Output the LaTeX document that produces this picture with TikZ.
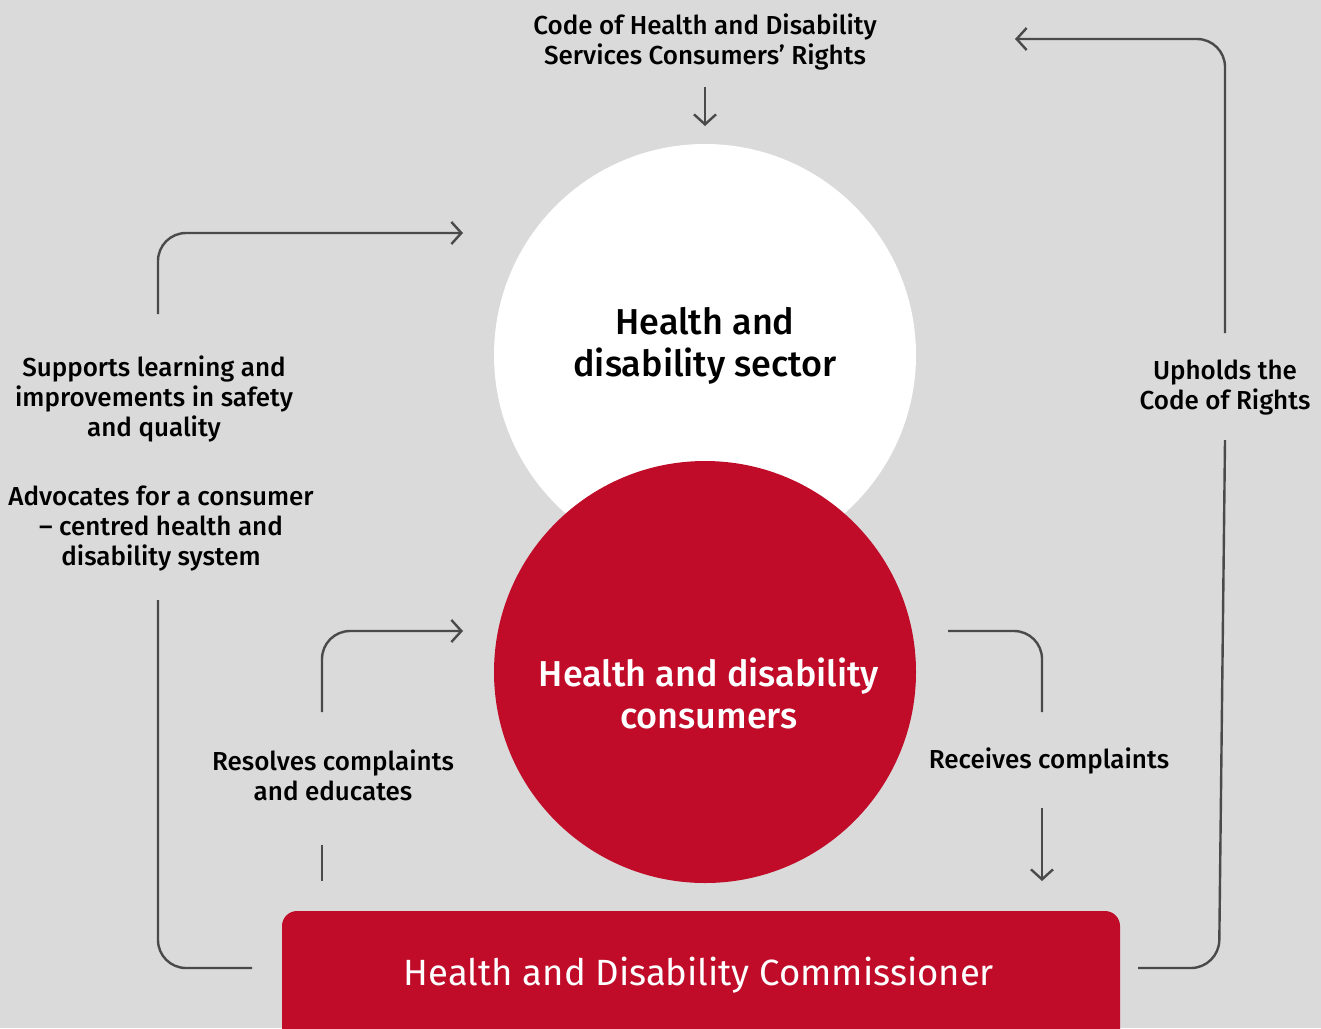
\documentclass[tikz,border=0pt]{standalone}
\usepackage{fontspec}
\setmainfont{Fira Sans}
\newfontfamily\medfont{Fira Sans Medium}
\usetikzlibrary{arrows.meta}
\definecolor{bg}{HTML}{DADADA}
\definecolor{hdcred}{HTML}{C00C29}
\definecolor{wire}{HTML}{4A4A4A}
\begin{document}
\begin{tikzpicture}[x=1pt,y=-1pt,
  wirestyle/.style={draw=wire,line width=2.4pt,rounded corners=28pt},
  tip/.style={-{Straight Barb[length=10pt,width=22pt]}},
  lbl/.style={align=center,font=\medfont\fontsize{26}{30}\selectfont,text=black,inner sep=0pt},
  big/.style={align=center,inner sep=0pt,font=\medfont\fontsize{36}{42}\selectfont},
  ball/.style={circle,minimum size=422pt,inner sep=0pt}]
\useasboundingbox (0,0) rectangle (1321,1028);
\clip (0,0) rectangle (1321,1028);
\fill[bg] (0,0) rectangle (1321,1028);

% the two circles
\node[ball,fill=white] (sector) at (705,355) {};
\node[ball,fill=hdcred] (consumers) at (705,672) {};
\node[big,text=black] (sectortext) at (705,346) {Health and\\disability sector};
\node[big,text=white] (consumerstext) at (709,693) {Health and disability\\consumers};

% the commissioner bar, running off the bottom edge
\node[fill=hdcred,rounded corners=15pt,minimum width=838pt,minimum height=150pt,inner sep=0pt] (hdc) at (701,986) {};
\node[text=white,inner sep=0pt,font=\fontsize{36.5}{42}\selectfont] (hdctext) at (699,975) {Health and Disability Commissioner};

% labels
\node[lbl] (code) at (705,42) {Code of Health and Disability\\Services Consumers’ Rights};
\node[lbl] (supports) at (154,399) {Supports learning and\\improvements in safety\\and quality};
\node[lbl] (advocates) at (161,529) {Advocates for a consumer\\– centred health and\\disability system};
\node[lbl] (resolves) at (333,775) {Resolves complaints\\and educates};
\node[lbl] (receives) at (1049,761) {Receives complaints};
\node[lbl] (upholds) at (1225,388) {Upholds the\\Code of Rights};

% connector end points
\coordinate (codeA) at (705,87);
\coordinate (codeB) at (705,126);
\coordinate (supA) at (158,314);
\coordinate (supB) at (463,233);
\coordinate (advA) at (158,600);
\coordinate (advB) at (252,968);
\coordinate (resA) at (322,712);
\coordinate (resB) at (463,631);
\coordinate (resC) at (322,845);
\coordinate (resD) at (322,881);
\coordinate (recA) at (948,631);
\coordinate (recB) at (1042,712);
\coordinate (recC) at (1042,808);
\coordinate (recD) at (1042,881);
\coordinate (uphA) at (1138,968);
\coordinate (uphK) at (1219,968);
\coordinate (uphB) at (1225,440);
\coordinate (uphC) at (1225,333);
\coordinate (uphD) at (1015,39);

% connectors
\draw[wirestyle,tip] (codeA) -- (codeB);
\draw[wirestyle,tip] (supA) |- (supB);
\draw[wirestyle] (advA) |- (advB);
\draw[wirestyle,tip] (resA) |- (resB);
\draw[wirestyle] (resC) -- (resD);
\draw[wirestyle] (recA) -| (recB);
\draw[wirestyle,tip] (recC) -- (recD);
\draw[wirestyle] (uphA) -- (uphK) -- (uphB);
\draw[wirestyle,tip] (uphC) |- (uphD);
\end{tikzpicture}
\end{document}
